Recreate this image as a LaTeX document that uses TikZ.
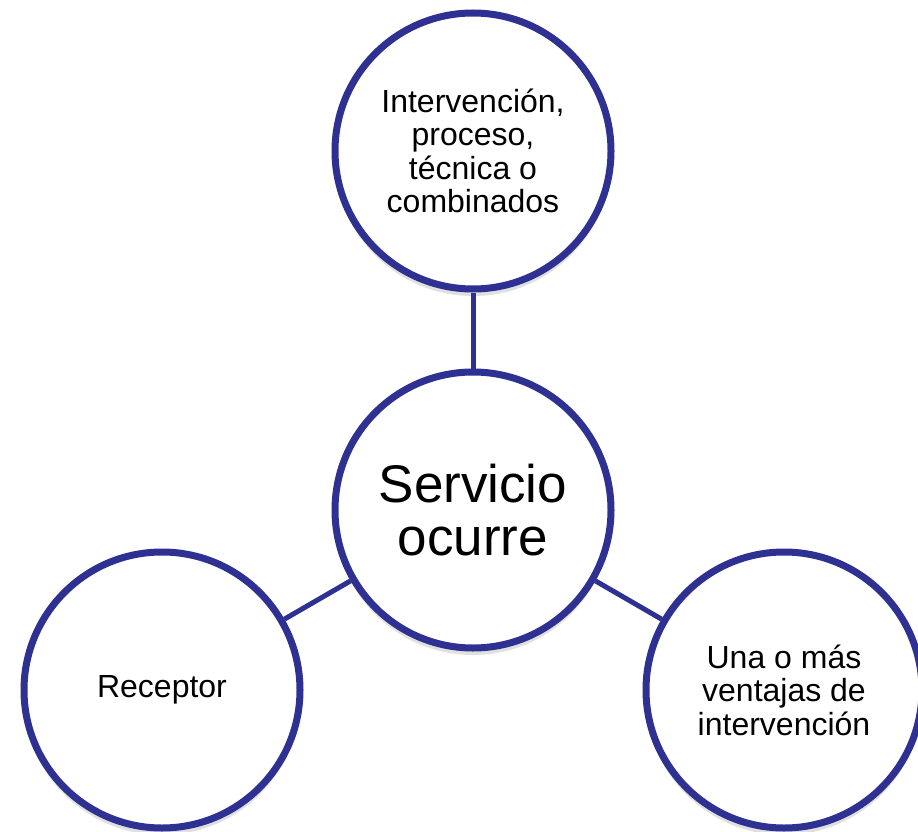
\documentclass[tikz,border=0pt]{standalone}
\usepackage{fontspec}
\setmainfont{Liberation Sans}
\usepackage{tikz}
\usetikzlibrary{positioning,shadows}
\definecolor{navy}{HTML}{2E3192}

\begin{document}
\begin{tikzpicture}[
  x=1pt,y=-1pt,
  bubble/.style={circle,draw=navy,line width=7pt,fill=white,minimum size=276pt,
    inner sep=0pt,align=center,
    drop shadow={shadow xshift=0pt,shadow yshift=-7pt,opacity=0.12,fill=black},
    font=\fontsize{32}{33.5}\selectfont},
  hub/.style={bubble,font=\fontsize{53}{53}\selectfont},
  link/.style={draw=navy,line width=5pt}
]
\clip (0,0) rectangle (918,832);
\fill[white] (0,0) rectangle (918,832);
\node[hub] (svc) at (473,510) {Servicio\\ocurre};
\node[bubble] (proc) at (473,151) {Intervenci\'on,\\proceso,\\t\'ecnica o\\combinados};
\node[bubble] (recv) at (162,690) {Receptor};
\node[bubble] (gain) at (784,690) {Una o m\'as\\ventajas de\\intervenci\'on};
\foreach \b in {proc,recv,gain}
  \draw[link] (svc) -- (\b);
\end{tikzpicture}
\end{document}
